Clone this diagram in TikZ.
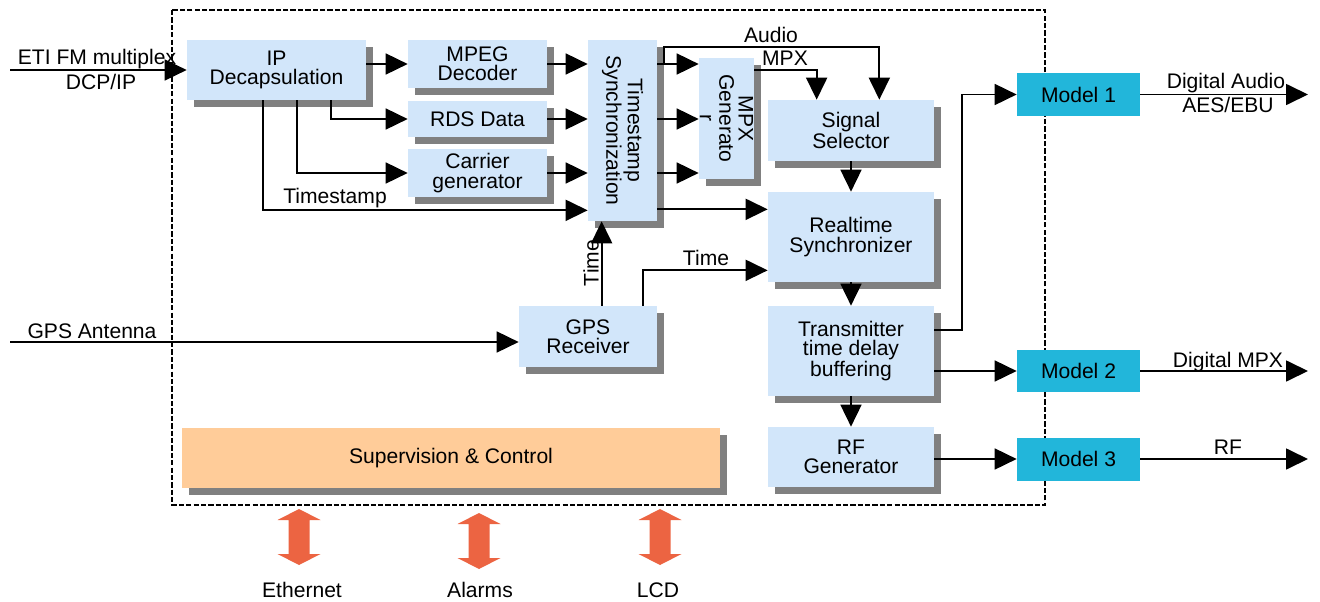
\documentclass[tikz,border=0pt]{standalone}
\usepackage{fontspec}
\setmainfont{Liberation Sans}
\usetikzlibrary{arrows.meta,shadows,calc}

\definecolor{boxblue}{HTML}{D2E6FA}
\definecolor{shadowgray}{HTML}{808080}
\definecolor{modelcyan}{HTML}{22B6DA}
\definecolor{supcolor}{HTML}{FFCC99}
\definecolor{arrowred}{HTML}{EC6442}

\tikzset{
    blok/.style={fill=boxblue, align=center, inner sep=0pt,
        drop shadow={shadow xshift=0.14cm, shadow yshift=-0.14cm, opacity=1, fill=shadowgray}},
    modl/.style={fill=modelcyan, inner sep=0pt, minimum width=2.46cm, minimum height=0.86cm},
    sig/.style={-{Triangle[length=0.44cm,width=0.42cm]}, line width=1pt},
    lbl/.style={inner sep=0pt, align=center}
}

\begin{document}
\begin{tikzpicture}[x=0.02cm, y=-0.02cm, every node/.style={font=\fontsize{12}{11}\selectfont}]
        \useasboundingbox (0,0) rectangle (1320,602);

        % outer frame
        \draw[line width=1pt, dash pattern=on 3pt off 1.2pt] (172,10) rectangle (1045,505);

        % blocks
        \node[blok, minimum width=3.58cm, minimum height=1.2cm] (ip) at (276.5,70) {IP\\Decapsulation};
        \node[blok, minimum width=2.78cm, minimum height=0.96cm] (mpeg) at (477.5,64) {MPEG\\Decoder};
        \node[blok, minimum width=2.78cm, minimum height=0.72cm] (rds) at (477.5,119) {RDS Data};
        \node[blok, minimum width=2.78cm, minimum height=0.96cm] (carrier) at (477.5,173) {Carrier\\generator};
        \node[blok, minimum width=1.38cm, minimum height=3.62cm] (tss) at (622.5,130.5) {};
        \node[lbl, rotate=-90] (tsstxt) at (tss.center) {Timestamp\\Synchronization};
        \node[blok, minimum width=1.1cm, minimum height=2.42cm] (mpxgen) at (726.5,118.5) {};
        \node[lbl, rotate=-90] (mpxtxt) at (mpxgen.center) {MPX\\Generato\\r};
        \node[blok, minimum width=3.32cm, minimum height=1.22cm] (sigsel) at (851,130.5) {Signal\\Selector};
        \node[blok, minimum width=3.32cm, minimum height=1.8cm] (rts) at (851,237) {Realtime\\Synchronizer};
        \node[blok, minimum width=3.32cm, minimum height=1.8cm] (txbuf) at (851,351) {Transmitter\\time delay\\buffering};
        \node[blok, minimum width=3.32cm, minimum height=1.2cm] (rfgen) at (851,457) {RF\\Generator};
        \node[blok, minimum width=2.76cm, minimum height=1.22cm] (gps) at (588,336.5) {GPS\\Receiver};
        \node[blok, fill=supcolor, minimum width=10.76cm, minimum height=1.2cm] (sup) at (451,458) {Supervision \& Control};

        \node[modl] (model1) at (1078.5,94.5) {Model 1};
        \node[modl] (model2) at (1078.5,371) {Model 2};
        \node[modl] (model3) at (1078.5,459) {Model 3};

        % inputs
        \coordinate (etiin) at (10,70);
        \coordinate (gpsin) at (10,342);
        \draw[sig] (etiin) -- (ip.west);
        \node[lbl] (etilbl) at (97,59) {ETI FM multiplex};
        \node[lbl] (dcplbl) at (101,82) {DCP/IP};
        \draw[sig] (gpsin) -- (gpsin -| gps.west);
        \node[lbl] (gpslbl) at (92,331) {GPS Antenna};

        % IP decapsulation outputs
        \draw[sig] (ip.east |- mpeg.west) -- (mpeg.west);
        \draw[sig] ($(ip.south east)+(-35,0)$) |- (rds.west);
        \draw[sig] ($(ip.south east)+(-69,0)$) |- (carrier.west);
        \coordinate (tsin) at ($(tss.south west)+(0,-11)$);
        \draw[sig] ($(ip.south west)+(76,0)$) |- (tsin);
        \node[lbl] (tslbl) at (335,198) {Timestamp};

        \draw[sig] (mpeg.east) -- (mpeg.east -| tss.west);
        \draw[sig] (rds.east) -- (rds.east -| tss.west);
        \draw[sig] (carrier.east) -- (carrier.east -| tss.west);

        % timestamp sync outputs
        \draw[sig] (tss.east |- mpeg.east) -- (mpxgen.west |- mpeg.east);
        \draw[sig] (tss.east |- rds.east) -- (mpxgen.west |- rds.east);
        \draw[sig] (tss.east |- carrier.east) -- (mpxgen.west |- carrier.east);
        \draw[sig] ($(tss.east |- mpeg.east)+(7,0)$) -- ++(0,-17) -| ($(sigsel.north east)+(-55,0)$);
        \node[lbl] (audiolbl) at (771,35) {Audio};
        \draw[sig] ($(mpxgen.north east)+(0,12)$) -| ($(sigsel.north west)+(49,0)$);
        \node[lbl] (mpxlbl) at (785,58) {MPX};
        \coordinate (tsout) at ($(tss.south east)+(0,-12)$);
        \draw[sig] (tsout) -- (tsout -| rts.west);

        % GPS time
        \coordinate (gpsa) at ($(gps.north west)+(83,0)$);
        \draw[sig] (gpsa) -- (gpsa |- tss.south);
        \node[lbl, rotate=90] (timelbla) at (591,263) {Time};
        \draw[sig] ($(gps.north east)+(-14,0)$) |- ($(rts.south west)+(0,-12)$);
        \node[lbl] (timelblb) at (706,258) {Time};

        % main chain
        \draw[sig] (sigsel.south) -- (rts.north);
        \draw[sig] (rts.south) -- (txbuf.north);
        \draw[sig] (txbuf.south) -- (rfgen.north);

        \draw[sig] ($(txbuf.north east)+(0,24)$) -- ++(28,0) |- (model1.west);
        \draw[sig] (txbuf.east |- model2.west) -- (model2.west);
        \draw[sig] (rfgen.east |- model3.west) -- (model3.west);

        % outputs
        \coordinate (out1) at (1308,94.5);
        \coordinate (out2) at (1308,371);
        \coordinate (out3) at (1308,459);
        \draw[sig] (model1.east) -- (out1);
        \draw[sig] (model2.east) -- (out2);
        \draw[sig] (model3.east) -- (out3);
        \node[lbl] (daudio) at (1226,83) {Digital Audio};
        \node[lbl] (aesebu) at (1228,105) {AES/EBU};
        \node[lbl] (dmpx) at (1228,362) {Digital MPX};
        \node[lbl] (rflbl) at (1228,447) {RF};

        % supervision interfaces
        \foreach \x/\y in {299/509, 479/513, 660/509}
            \fill[arrowred] (\x,\y) -- ++(21.5,11) -- ++(-11,0) -- ++(0,34) -- ++(11,0)
                -- ++(-21.5,11) -- ++(-21.5,-11) -- ++(11,0) -- ++(0,-34) -- ++(-11,0) -- cycle;
        \node[lbl] (eth) at (302,590) {Ethernet};
        \node[lbl] (alarms) at (480,590) {Alarms};
        \node[lbl] (lcd) at (658,590) {LCD};

    \end{tikzpicture}
\end{document}
